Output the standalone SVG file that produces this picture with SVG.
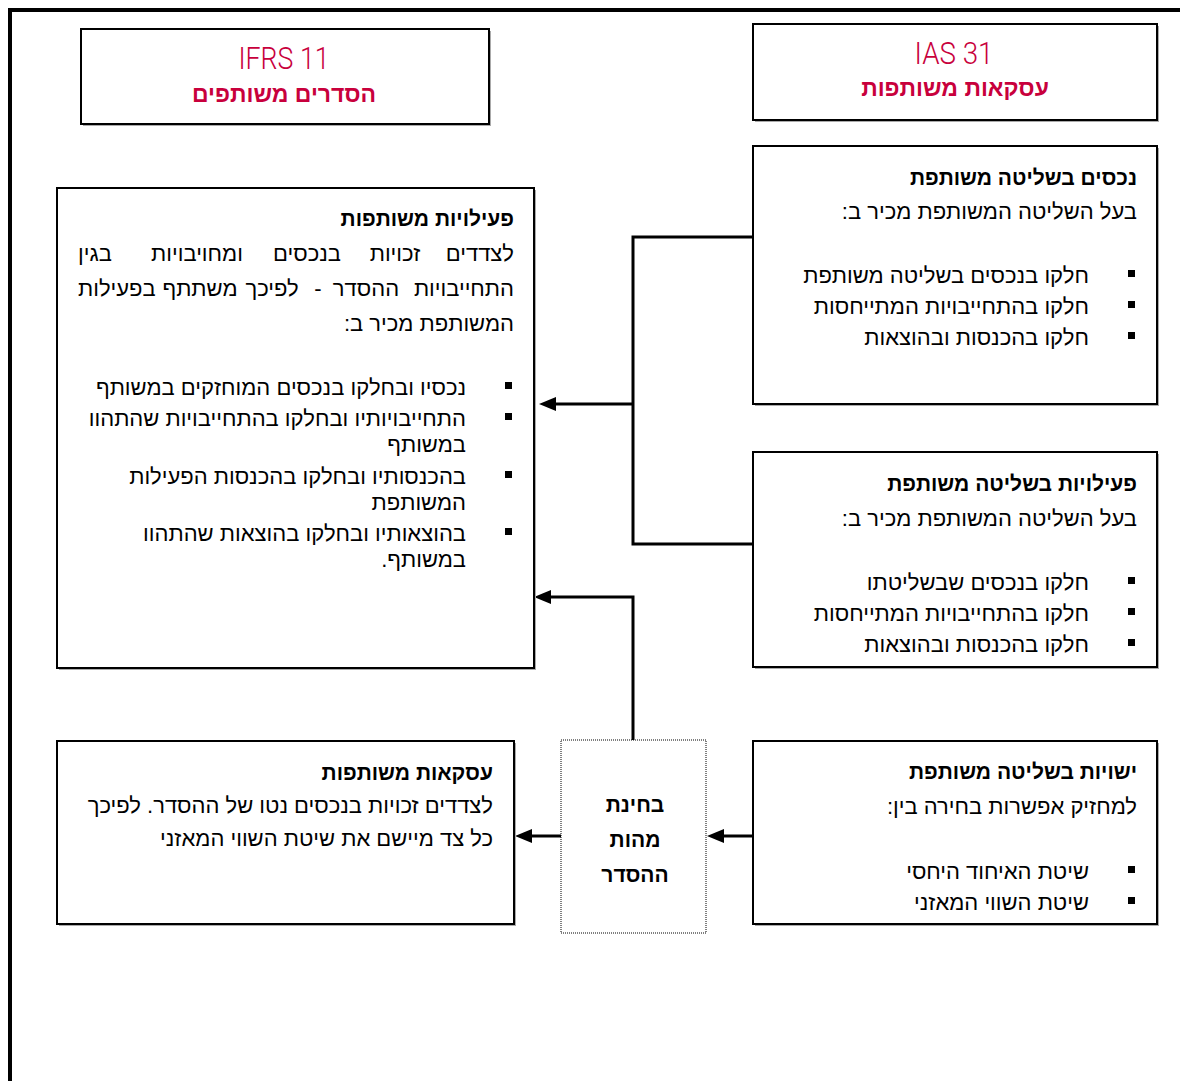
<svg xmlns="http://www.w3.org/2000/svg" width="1180" height="1081" viewBox="0 0 1180 1081">
<style>
.frame{fill:none;stroke:#000;stroke-width:4}
.box{fill:#fff;stroke:#000;stroke-width:2}
.shadow{fill:#aaa}
.dot{fill:#fff;stroke:#000;stroke-width:1;stroke-dasharray:1 1}
.conn{fill:none;stroke:#000;stroke-width:3}
text{font-family:"Liberation Sans","DejaVu Sans",sans-serif;fill:#000}
.r{direction:rtl}
.b{font-size:22px}
.hd{font-size:21px;font-weight:bold}
.ttl{font-family:Roboto,"Liberation Sans",sans-serif;font-weight:300;font-size:32px;fill:#C8003C}
.sub{font-size:23px;font-weight:bold;fill:#C8003C}
.sq{fill:#000}
</style>
<defs>
<marker id="ah" viewBox="0 0 17 14" refX="9" refY="7" markerWidth="17" markerHeight="14" markerUnits="userSpaceOnUse" orient="auto">
<path d="M0,0 L17,7 L0,14 z" fill="#000"/>
</marker>
</defs>
<rect width="1180" height="1081" fill="#fff"/>
<path class="frame" d="M10,1081 V10 H1180"/>

<g id="ifrs11">
<rect class="shadow" x="83" y="31" width="408" height="95"/>
<rect class="box" x="81" y="29" width="408" height="95"/>
<text class="ttl" x="284" y="69" text-anchor="middle" textLength="91" lengthAdjust="spacingAndGlyphs">IFRS 11</text>
<text class="sub r" x="284" y="102" text-anchor="middle">הסדרים משותפים</text>
</g>

<g id="ias31">
<rect class="shadow" x="755" y="26" width="404" height="96"/>
<rect class="box" x="753" y="24" width="404" height="96"/>
<text class="ttl" x="954" y="64" text-anchor="middle" textLength="79" lengthAdjust="spacingAndGlyphs">IAS 31</text>
<text class="sub r" x="955" y="96" text-anchor="middle">עסקאות משותפות</text>
</g>

<g id="connectors">
<path class="conn" d="M753,237 H633 V544 H753"/>
<path class="conn" d="M633,404 H547" marker-end="url(#ah)"/>
<path class="conn" d="M633,740 V597 H542" marker-end="url(#ah)"/>
<path class="conn" d="M753,836 H715" marker-end="url(#ah)"/>
<path class="conn" d="M561,836 H523" marker-end="url(#ah)"/>
</g>

<g id="jointly-controlled-assets">
<rect class="shadow" x="755" y="148" width="404" height="258"/>
<rect class="box" x="753" y="146" width="404" height="258"/>
<text class="hd r" x="1137" y="185">נכסים בשליטה משותפת</text>
<text class="b r" x="1137" y="219">בעל השליטה המשותפת מכיר ב:</text>
<rect class="sq" x="1128" y="270" width="7" height="7"/>
<rect class="sq" x="1128" y="301" width="7" height="7"/>
<rect class="sq" x="1128" y="332" width="7" height="7"/>
<text class="b r" x="1089" y="283">חלקו בנכסים בשליטה משותפת</text>
<text class="b r" x="1089" y="314">חלקו בהתחייבויות המתייחסות</text>
<text class="b r" x="1089" y="345">חלקו בהכנסות ובהוצאות</text>
</g>

<g id="jointly-controlled-operations">
<rect class="shadow" x="755" y="454" width="404" height="215"/>
<rect class="box" x="753" y="452" width="404" height="215"/>
<text class="hd r" x="1137" y="491">פעילויות בשליטה משותפת</text>
<text class="b r" x="1137" y="526">בעל השליטה המשותפת מכיר ב:</text>
<rect class="sq" x="1128" y="577" width="7" height="7"/>
<rect class="sq" x="1128" y="608" width="7" height="7"/>
<rect class="sq" x="1128" y="639" width="7" height="7"/>
<text class="b r" x="1089" y="590">חלקו בנכסים שבשליטתו</text>
<text class="b r" x="1089" y="621">חלקו בהתחייבויות המתייחסות</text>
<text class="b r" x="1089" y="652">חלקו בהכנסות ובהוצאות</text>
</g>

<g id="jointly-controlled-entities">
<rect class="shadow" x="755" y="743" width="404" height="183"/>
<rect class="box" x="753" y="741" width="404" height="183"/>
<text class="hd r" x="1137" y="779">ישויות בשליטה משותפת</text>
<text class="b r" x="1137" y="814">למחזיק אפשרות בחירה בין:</text>
<rect class="sq" x="1128" y="866" width="7" height="7"/>
<rect class="sq" x="1128" y="897" width="7" height="7"/>
<text class="b r" x="1089" y="879">שיטת האיחוד היחסי</text>
<text class="b r" x="1089" y="910">שיטת השווי המאזני</text>
</g>

<g id="joint-operations">
<rect class="shadow" x="59" y="190" width="477" height="480"/>
<rect class="box" x="57" y="188" width="477" height="480"/>
<text class="hd r" x="514" y="226">פעילויות משותפות</text>
<text class="b" x="514" y="261" text-anchor="end">לצדדים</text>
<text class="b" x="395" y="261" text-anchor="middle">זכויות</text>
<text class="b" x="307" y="261" text-anchor="middle">בנכסים</text>
<text class="b" x="197" y="261" text-anchor="middle">ומחויבויות</text>
<text class="b" x="78" y="261">בגין</text>
<text class="b" x="514" y="296" text-anchor="end">התחייבויות</text>
<text class="b" x="366" y="296" text-anchor="middle">ההסדר</text>
<text class="b" x="318" y="296" text-anchor="middle">-</text>
<text class="b" x="272" y="296" text-anchor="middle">לפיכך</text>
<text class="b" x="200" y="296" text-anchor="middle">משתתף</text>
<text class="b" x="78" y="296">בפעילות</text>
<text class="b r" x="514" y="331">המשותפת מכיר ב:</text>
<rect class="sq" x="505" y="382" width="7" height="7"/>
<rect class="sq" x="505" y="413" width="7" height="7"/>
<rect class="sq" x="505" y="471" width="7" height="7"/>
<rect class="sq" x="505" y="528" width="7" height="7"/>
<text class="b r" x="466" y="395">נכסיו ובחלקו בנכסים המוחזקים במשותף</text>
<text class="b r" x="466" y="426">התחייבויותיו ובחלקו בהתחייבויות שהתהוו</text>
<text class="b r" x="466" y="452">במשותף</text>
<text class="b r" x="466" y="484">בהכנסותיו ובחלקו בהכנסות הפעילות</text>
<text class="b r" x="466" y="510">המשותפת</text>
<text class="b r" x="466" y="541">בהוצאותיו ובחלקו בהוצאות שהתהוו</text>
<text class="b r" x="466" y="567">במשותף.</text>
</g>

<g id="arrangement-test">
<rect class="dot" x="561" y="740" width="145" height="193"/>
<text class="hd" x="635" y="812" text-anchor="middle">בחינת</text>
<text class="hd" x="635" y="847" text-anchor="middle">מהות</text>
<text class="hd" x="635" y="882" text-anchor="middle">ההסדר</text>
</g>

<g id="joint-ventures">
<rect class="shadow" x="59" y="743" width="457" height="183"/>
<rect class="box" x="57" y="741" width="457" height="183"/>
<text class="hd r" x="493" y="780">עסקאות משותפות</text>
<text class="b r" x="493" y="813">לצדדים זכויות בנכסים נטו של ההסדר. לפיכך</text>
<text class="b r" x="493" y="846">כל צד מיישם את שיטת השווי המאזני</text>
</g>
</svg>
